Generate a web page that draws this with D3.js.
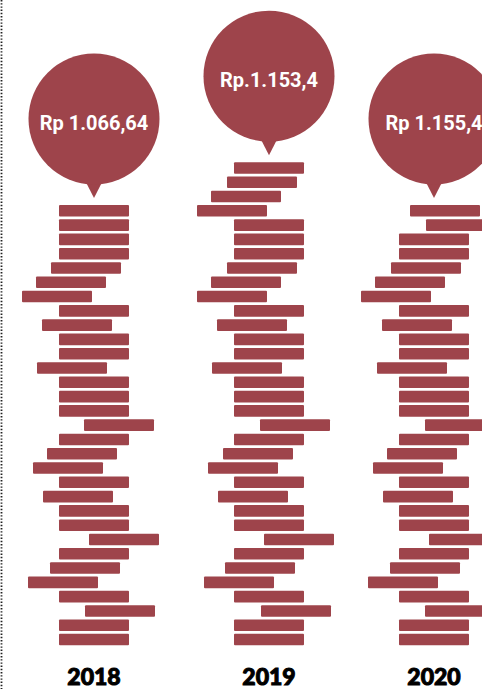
<!DOCTYPE html>
<html>
<head>
<meta charset="utf-8">
<script src="https://cdn.jsdelivr.net/npm/d3@7"></script>
<style>
  html, body { margin: 0; padding: 0; background: #fff; }
  svg { display: block; }
</style>
</head>
<body>
<svg width="482" height="689"></svg>
<script>
var svg = d3.select("svg"),
  width = +svg.attr("width"),
  height = +svg.attr("height");

// years and the value shown in each bubble
var years = ["2018", "2019", "2020"];
var valueLabels = ["Rp 1.066,64", "Rp.1.153,4", "Rp 1.155,4"];

// horizontal shift of each bar in the stack, top to bottom (px, 0 = aligned)
var shifts2018 = [0, 0, 0, 0, -8, -23, -37, 0, -17, 0, 0, -22, 0, 0, 0, 25, 0, -12, -26, 0, -16, 0, 0, 30, 0, -9, -31, 0, 26, 0, 0];
var shifts2019 = [0, -7, -23, -37, 0, 0, 0, -7, -23, -37, 0, -17, 0, 0, -22, 0, 0, 0, 26, 0, -11, -26, 0, -16, 0, 0, 30, 0, -9, -30, 0, 27, 0, 0];
var shifts2020 = [11, 27, 0, 0, -8, -24, -38, 0, -17, 0, 0, -22, 0, 0, 0, 26, 0, -12, -26, 0, -16, 0, 0, 30, 0, -9, -31, 0, 26, 0, 0];

var stacks = [shifts2018, shifts2019, shifts2020];

var barColor = "#9e444b",
  barW = 70, barH = 11.6, step = 14.29, bubbleR = 65.5;

// column centres
var colX = d3.scaleOrdinal()
  .domain(years)
  .range([94, 269, 434]);

// count of bars from the bottom -> y
var y = d3.scaleLinear()
  .domain([0, 1])
  .range([648, 648 - step]);

var shiftX = d3.scaleLinear()
  .domain([-1, 1])
  .range([-1, 1]);

// dotted rule on the left edge
svg.append("line")
  .attr("x1", 1.5).attr("x2", 1.5)
  .attr("y1", 0).attr("y2", height)
  .attr("stroke", "#222")
  .attr("stroke-width", 1.8)
  .attr("stroke-dasharray", "1.4,1.8");

var cols = svg.selectAll("g.col")
  .data(years)
  .enter()
  .append("g")
  .attr("class", "col");

cols.each(function(year, k) {
  var g = d3.select(this),
    data = stacks[k],
    n = data.length,
    cx = colX(year),
    top = y(n);

  // stack of bars
  g.selectAll("rect")
    .data(data)
    .enter()
    .append("rect")
    .attr("x", function(d) { return cx - barW / 2 + shiftX(d); })
    .attr("y", function(d, i) { return y(n - i); })
    .attr("width", barW)
    .attr("height", barH)
    .attr("rx", 1)
    .attr("fill", barColor);

  // bubble
  var cy = top - 86;
  g.append("path")
    .attr("d", "M" + (cx - 11) + "," + (cy + bubbleR - 8) +
      "L" + (cx + 11) + "," + (cy + bubbleR - 8) +
      "L" + cx + "," + (top - 7) + "Z")
    .attr("fill", barColor);

  g.append("circle")
    .attr("cx", cx)
    .attr("cy", cy)
    .attr("r", bubbleR)
    .attr("fill", barColor);

  g.append("text")
    .attr("x", cx)
    .attr("y", cy + 11)
    .attr("text-anchor", "middle")
    .attr("fill", "#fff")
    .attr("font-family", "Roboto, 'Open Sans', sans-serif")
    .attr("font-weight", 700)
    .attr("font-size", 20)
    .text(valueLabels[k]);

  // year label
  g.append("text")
    .attr("x", cx)
    .attr("y", 685)
    .attr("text-anchor", "middle")
    .attr("fill", "#000")
    .attr("stroke", "#000")
    .attr("stroke-width", 1)
    .attr("font-family", "Lato, 'Open Sans', sans-serif")
    .attr("font-weight", 900)
    .attr("font-size", 23)
    .text(year);
});
</script>
</body>
</html>
